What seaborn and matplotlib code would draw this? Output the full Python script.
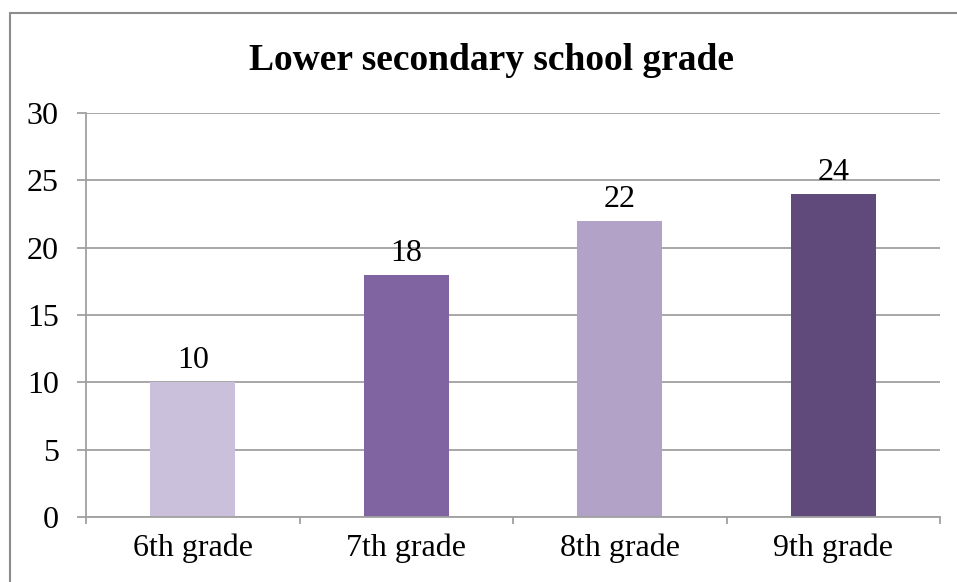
import numpy as np
import pandas as pd
import matplotlib
matplotlib.use("Agg")
import matplotlib.pyplot as plt
import seaborn as sns

grades = ["6th grade", "7th grade", "8th grade", "9th grade"]
counts = [10, 18, 22, 24]
colors = ["#CBC0DB", "#8064A2", "#B3A2C7", "#604A7B"]
title = "Lower secondary school grade"

sns.set_style("white")
plt.rcParams["font.family"] = ["Liberation Serif", "DejaVu Serif"]
plt.rcParams["text.color"] = "black"
plt.rcParams["xtick.color"] = "black"
plt.rcParams["ytick.color"] = "black"
plt.rcParams["xtick.bottom"] = True
plt.rcParams["ytick.left"] = True

df = pd.DataFrame({"grade": grades, "count": counts})

fig = plt.figure(figsize=(9.57, 5.82), dpi=100)
ax = fig.add_axes([86 / 957, 1 - 517 / 582, (940 - 86) / 957, (517 - 113) / 582])

sns.barplot(data=df, x="grade", y="count", hue="grade", palette=colors,
            width=0.4, legend=False, ax=ax, saturation=1, linewidth=0,
            edgecolor="none")

ax.set_xlim(-0.5, 3.5)
ax.set_ylim(0, 30)
ax.set_yticks(range(0, 31, 5))
ax.yaxis.grid(True, color="#A0A0A0", linewidth=1.3)
ax.set_axisbelow(True)
ax.set_xlabel("")
ax.set_ylabel("")

for s in ["top", "right"]:
    ax.spines[s].set_visible(False)
for s in ["left", "bottom"]:
    ax.spines[s].set_color("#A0A0A0")
    ax.spines[s].set_linewidth(1.3)

ax.tick_params(axis="y", length=6.5, width=1.3, color="#A0A0A0", labelsize=23,
               labelcolor="black", pad=13)
ax.tick_params(axis="x", which="major", length=0, labelsize=23,
               labelcolor="black", pad=12)
ax.set_xticks(np.arange(-0.5, 4.0, 1.0), minor=True)
ax.tick_params(axis="x", which="minor", length=5, width=1.3, color="#A0A0A0")

for i, v in enumerate(counts):
    ax.annotate(str(v), (i, v), xytext=(0, 5), textcoords="offset points",
                ha="center", va="bottom", fontsize=23, color="black")

fig.text(491 / 957, 1 - 60 / 582, title, ha="center", va="center",
         fontsize=27, fontweight="bold", color="black")

# outer chart frame (left and top visible)
fig.add_artist(plt.Line2D([10 / 957, 10 / 957], [0, 1 - 13 / 582],
                          transform=fig.transFigure, color="#8C8C8C", linewidth=1.5))
fig.add_artist(plt.Line2D([10 / 957, 1], [1 - 13 / 582, 1 - 13 / 582],
                          transform=fig.transFigure, color="#8C8C8C", linewidth=1.5))

fig.savefig("out.png", dpi=100)
